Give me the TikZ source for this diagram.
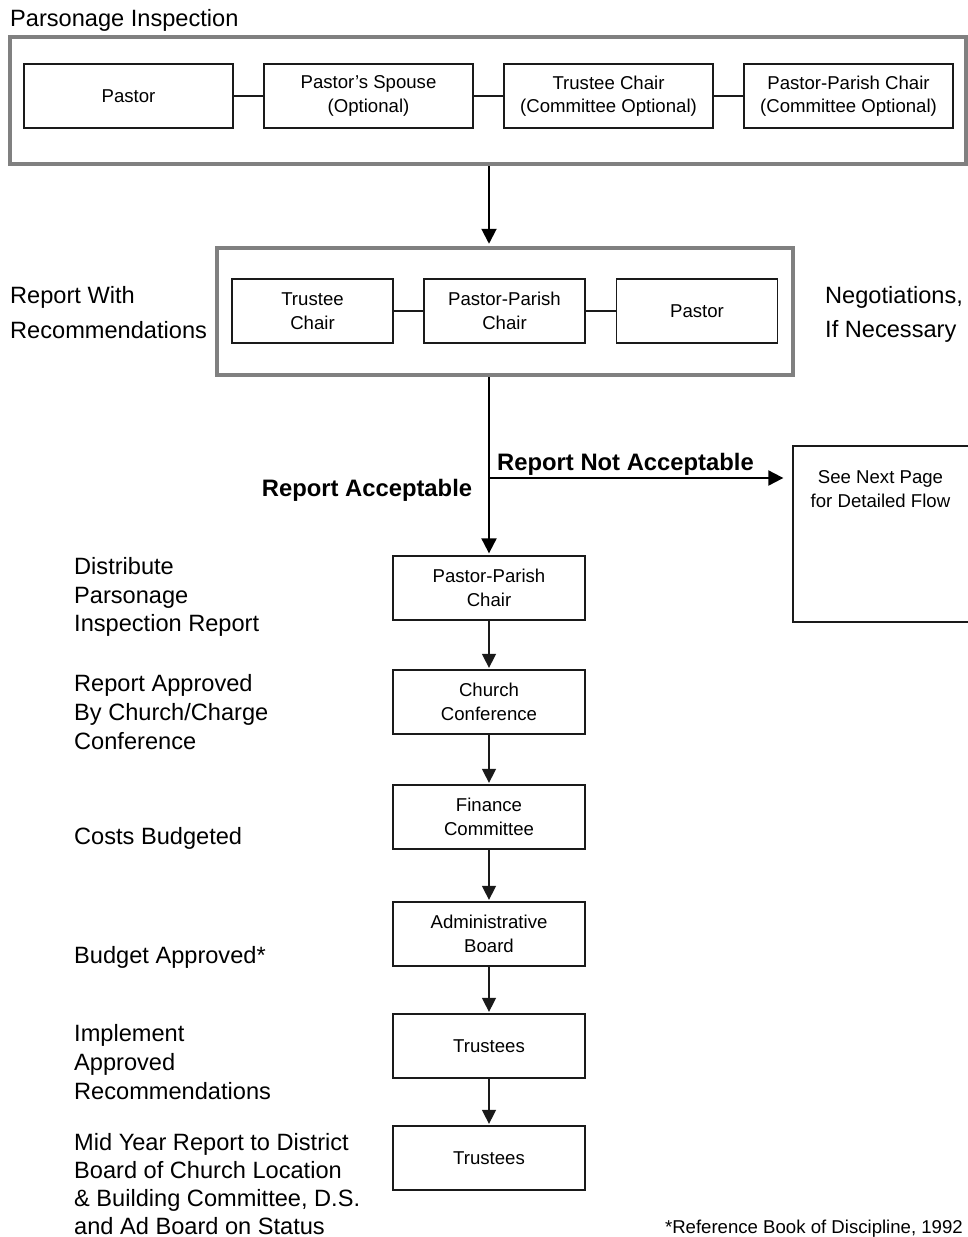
\documentclass[tikz,border=0pt]{standalone}
\usepackage{fontspec}
\setmainfont{Liberation Sans}
\usetikzlibrary{arrows.meta}
\definecolor{framegray}{HTML}{808080}
\definecolor{ink}{HTML}{1A1A1A}
\newcommand{\sidefnt}{\fontsize{23.6}{29}\selectfont}
\newcommand{\boxfnt}{\fontsize{18.6}{23.5}\selectfont}
\newcommand{\boldfnt}{\fontsize{23.8}{29}\selectfont\bfseries}
\begin{document}
\begin{tikzpicture}[x=1pt,y=-1pt,
  frame/.style={draw=framegray, line width=4.5pt, inner sep=0pt},
  box/.style={draw=ink, line width=1.3pt, fill=white, align=center, inner sep=0pt, font=\boxfnt, text=black},
  rowone/.style={box, minimum width=209pt, minimum height=64pt},
  rowtwo/.style={box, minimum width=161pt, minimum height=64pt},
  colbox/.style={box, minimum width=192pt, minimum height=64pt},
  boxtext/.style={align=center, inner sep=0pt, font=\boxfnt},
  side/.style={align=left, inner sep=0pt, font=\sidefnt, anchor=west},
  boldlabel/.style={inner sep=0pt, font=\boldfnt, anchor=base},
  link/.style={draw=ink, line width=1.2pt},
  arr/.style={draw=black, line width=2pt, -{Triangle[width=15pt,length=15pt]}, shorten >=2pt},
  smallarr/.style={draw=ink, line width=1.5pt, -{Triangle[width=14pt,length=14pt]}, shorten >=1.5pt}
]
\useasboundingbox (0,0) rectangle (967,1237);

% title
\node[side, anchor=base west] (title) at (10,26.5) {Parsonage Inspection};

% inspection frame
\node[frame, minimum width=956pt, minimum height=127pt] (insp) at (488,100.5) {};
\node[rowone] (p1) at (128.5,96) {Pastor};
\node[rowone] (s1) at (368.5,96) {Pastor’s Spouse\\(Optional)};
\node[rowone] (t1) at (608.5,96) {Trustee Chair\\(Committee Optional)};
\node[rowone] (pp1) at (848.5,96) {Pastor-Parish Chair\\(Committee Optional)};
\draw[link] (p1) -- (s1);
\draw[link] (s1) -- (t1);
\draw[link] (t1) -- (pp1);

% report frame
\node[frame, minimum width=576pt, minimum height=127pt] (rep) at (505,311.5) {};
\node[rowtwo] (t2) at (312.5,311) {Trustee\\Chair};
\node[rowtwo] (pp2) at (504.5,311) {Pastor-Parish\\Chair};
\node[rowtwo] (p2) at (697,311) {Pastor};
\draw[link] (t2) -- (pp2);
\draw[link] (pp2) -- (p2);

\node[side, font=\fontsize{23.6}{35}\selectfont] (repwith) at (10,312.4) {Report With\\Recommendations};
\node[side, font=\fontsize{23.6}{34}\selectfont] (nego) at (825,314.4) {Negotiations,\\If Necessary};

\coordinate (spine) at (489,0);
\draw[arr] (insp.south -| spine) -- (rep.north -| spine);

% column boxes
\node[colbox] (ppc) at (489,588) {Pastor-Parish\\Chair};
\node[colbox] (cc) at (489,702) {Church\\Conference};
\node[colbox] (fc) at (489,817) {Finance\\Committee};
\node[colbox] (ab) at (489,934) {Administrative\\Board};
\node[colbox] (tr1) at (489,1046) {Trustees};
\node[colbox] (tr2) at (489,1158) {Trustees};

\draw[arr] (rep.south -| spine) -- (ppc.north);
\draw[smallarr] (ppc) -- (cc);
\draw[smallarr] (cc) -- (fc);
\draw[smallarr] (fc) -- (ab);
\draw[smallarr] (ab) -- (tr1);
\draw[smallarr] (tr1) -- (tr2);

% branch
\node[box, minimum width=187pt, minimum height=176pt] (next) at (886.5,534) {};
\node[boxtext] (nexttxt) at (880.5,489) {See Next Page\\for Detailed Flow};
\coordinate (fork) at (489,478);
\draw[arr, shorten >=9pt] (fork) -- (fork -| next.west);
\node[boldlabel] (notacc) at (625.5,470) {Report Not Acceptable};
\node[boldlabel] (acc) at (367,496.5) {Report Acceptable};

% side notes
\node[side, font=\fontsize{23.6}{28.5}\selectfont] (dist) at (74,596.9) {Distribute\\Parsonage\\Inspection Report};
\node[side] (appr) at (74,712.4) {Report Approved\\By Church/Charge\\Conference};
\node[side, anchor=base west] (costs) at (74,844.5) {Costs Budgeted};
\node[side, anchor=base west] (budget) at (74,963.5) {Budget Approved*};
\node[side] (impl) at (74,1061.9) {Implement\\Approved\\Recommendations};
\node[side, font=\fontsize{23.6}{28}\selectfont] (mid) at (74,1183.9) {Mid Year Report to District\\Board of Church Location\\\& Building Committee, D.S.\\and Ad Board on Status};

\node[inner sep=0pt, font=\boxfnt, anchor=base east] (note) at (963,1233) {*Reference Book of Discipline, 1992};
\end{tikzpicture}
\end{document}
